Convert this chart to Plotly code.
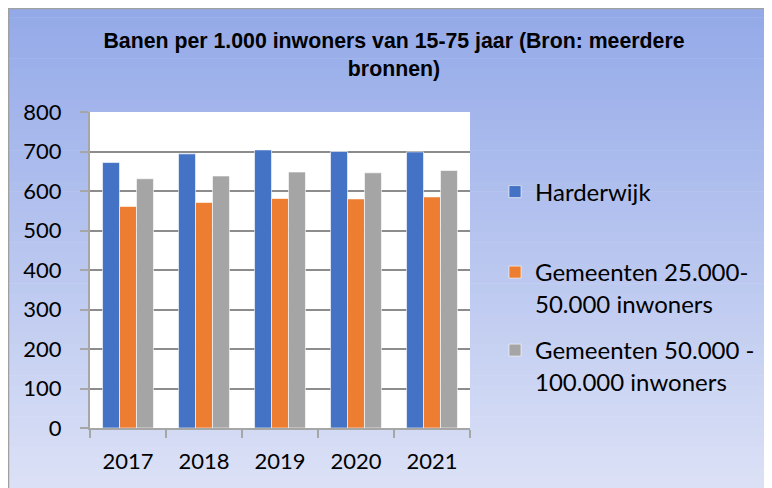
import plotly.graph_objects as go

years = ["2017", "2018", "2019", "2020", "2021"]
harderwijk = [672, 694, 704, 700, 699]
gem_25_50 = [561, 571, 581, 580, 585]
gem_50_100 = [631, 638, 648, 646, 652]
series_names = ["Harderwijk", "Gemeenten 25.000-<br>50.000 inwoners", "Gemeenten 50.000 -<br>100.000 inwoners"]
colors = ["#4472C4", "#ED7D31", "#A5A5A5"]
title_text = "Banen per 1.000 inwoners van 15-75 jaar (Bron: meerdere<br>bronnen)"

W, H = 772, 488
OFF = 8  # page body margin offset
# target plot area in screen pixels
SL, SR, ST, SB = 90, 470, 112, 428
PL, PR, PT, PB = SL - OFF, SR - OFF, ST - OFF, SB - OFF


def px(x):
    """screen x -> paper x"""
    return (x - OFF - PL) / (PR - PL)


def py(y):
    """screen y -> paper y"""
    return (PB - (y - OFF)) / (PB - PT)


fig = go.Figure()
legends = ["legend", "legend2", "legend3"]
for vals, name, col, lg in zip([harderwijk, gem_25_50, gem_50_100], series_names, colors, legends):
    fig.add_trace(go.Bar(
        x=years, y=vals, name=name, legend=lg, showlegend=True,
        marker=dict(color=col, line=dict(color="rgba(255,255,255,0.6)", width=1)),
    ))

shapes = []
# gradient background
top_c = (147, 169, 232)
bot_c = (221, 226, 246)
y0 = 7
n = 48
step = (H + 10 - y0) / n
for i in range(n):
    t = (i + 0.5) / n
    c = tuple(int(round(top_c[k] + (bot_c[k] - top_c[k]) * t)) for k in range(3))
    ya = y0 + i * step
    yb = y0 + (i + 1) * step + 0.6
    shapes.append(dict(type="rect", xref="paper", yref="paper", x0=px(0), x1=px(W + 20),
                       y0=py(yb), y1=py(ya), line=dict(width=0),
                       fillcolor="rgb(%d,%d,%d)" % c, layer="below"))
# plot area white
shapes.append(dict(type="rect", xref="paper", yref="paper", x0=0, x1=1, y0=0, y1=1,
                   line=dict(width=0), fillcolor="white", layer="below"))
# frame lines
shapes.append(dict(type="line", xref="paper", yref="paper", x0=px(8), x1=px(W + 20),
                   y0=py(8.5), y1=py(8.5), line=dict(color="#a0a0a0", width=1.5)))
shapes.append(dict(type="line", xref="paper", yref="paper", x0=px(8.5), x1=px(8.5),
                   y0=py(8), y1=py(H + 20), line=dict(color="#a0a0a0", width=1.5)))

tick_font = dict(family="Lato, Open Sans, sans-serif", size=22, color="#000000")
legend_font = dict(family="Lato, Open Sans, sans-serif", size=24, color="#000000")

fig.update_layout(
    width=W, height=H,
    margin=dict(l=PL, r=W - PR, t=PT, b=H - PB, pad=0),
    paper_bgcolor="white", plot_bgcolor="white",
    showlegend=True,
    bargap=0.33, bargroupgap=0,
    shapes=shapes,
    title=dict(text=title_text, xref="container", yref="container",
               x=386 / W, xanchor="center", y=1 - 40 / H, yanchor="top",
               font=dict(family="Liberation Sans, Arial, sans-serif", size=21.3,
                         color="#000000", weight="bold")),
    font=tick_font,
    xaxis=dict(type="category", tickson="boundaries", ticks="outside", ticklen=8,
               tickcolor="#a6a6a6", tickwidth=1.5, showline=True, linecolor="#a6a6a6",
               linewidth=2, showgrid=False, tickfont=tick_font, ticklabelstandoff=13),
    yaxis=dict(range=[0, 800], dtick=100, ticks="outside", ticklen=8, tickcolor="#a6a6a6",
               tickwidth=1.5, showline=True, linecolor="#a6a6a6", linewidth=2,
               gridcolor="#8c8c8c", gridwidth=1.5, zeroline=False, tickfont=tick_font,
               ticklabelstandoff=14),
)

leg_common = dict(bgcolor="rgba(0,0,0,0)", borderwidth=0, font=legend_font, valign="top",
                  xanchor="left", yanchor="middle", xref="paper", yref="paper")
fig.update_layout(
    legend=dict(x=px(495), y=py(192), **leg_common),
    legend2=dict(x=px(495), y=py(288), **leg_common),
    legend3=dict(x=px(495), y=py(366), **leg_common),
)

fig.write_html("out.html")
